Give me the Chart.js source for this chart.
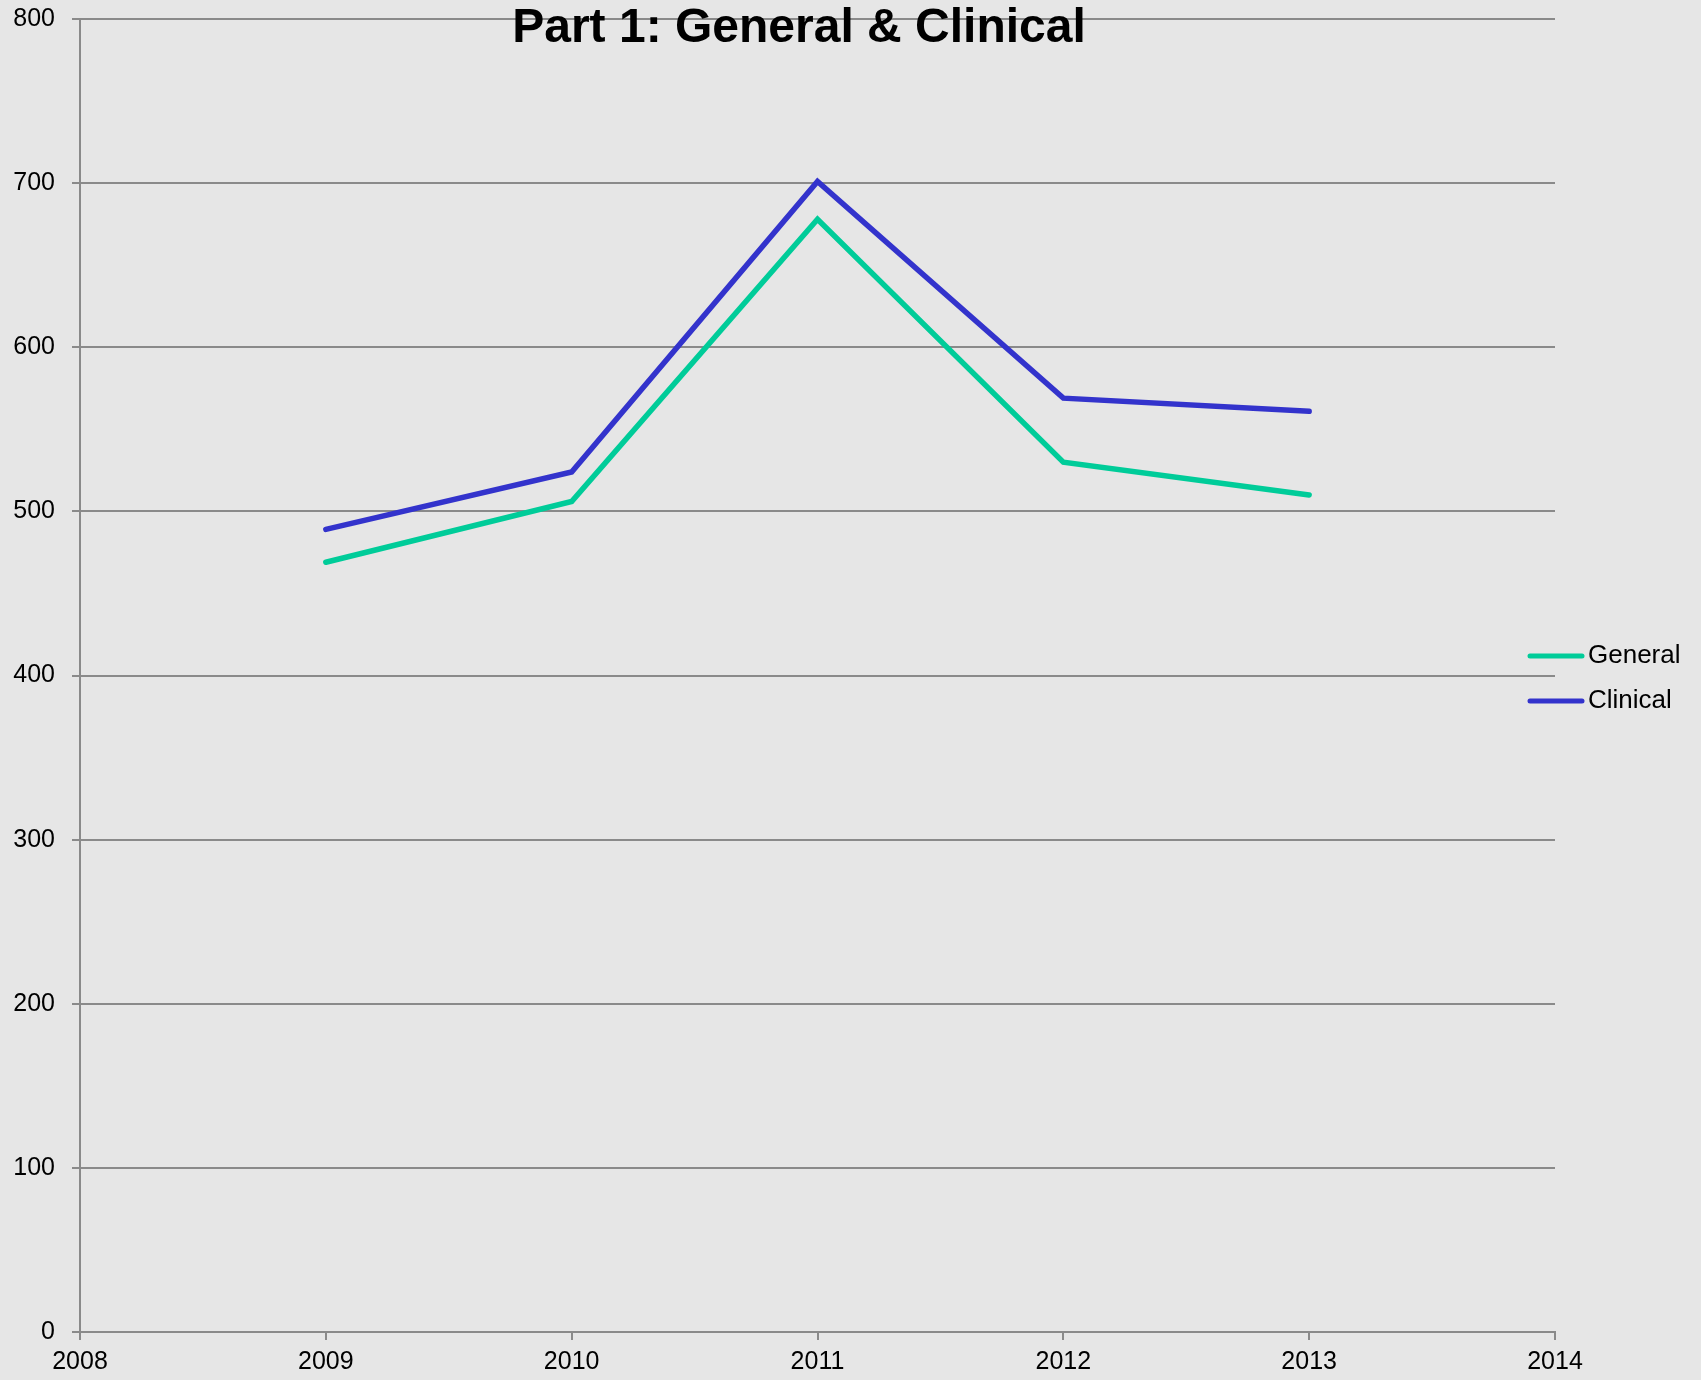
<!DOCTYPE html>
<html>
<head>
    <title>Part 1: General & Clinical</title>
    <script src="https://cdn.jsdelivr.net/npm/chart.js"></script>
    <style>
        body { margin: 0; background: #e6e6e6; }
        #wrap { width: 1701px; height: 1380px; }
    </style>
</head>
<body>
    <div id="wrap">
        <canvas id="myChart" width="1701" height="1380"></canvas>
    </div>

    <script>
        // datos
        const years = [2009, 2010, 2011, 2012, 2013];
        const general = [469, 506, 678, 530, 510];
        const clinical = [489, 524, 701, 569, 561];
        const seriesNames = ['General', 'Clinical'];
        const seriesColors = ['#00cc99', '#3333cc'];
        const xMin = 2008, xMax = 2014;
        const yMin = 0, yMax = 800, yStep = 100;
        const chartTitle = 'Part 1: General & Clinical';

        const gridColor = '#8a8a8a';
        const fontFamily = '"Liberation Sans", Arial, sans-serif';

        function toPoints(values) {
            return years.map((y, i) => ({ x: y, y: values[i] }));
        }

        // título encima del área del gráfico (se solapa con la línea de 800)
        const titlePlugin = {
            id: 'titleOverlay',
            afterDraw(chart) {
                const ctx = chart.ctx;
                ctx.save();
                ctx.font = 'bold 48px ' + fontFamily;
                ctx.fillStyle = '#000';
                ctx.textAlign = 'center';
                ctx.textBaseline = 'alphabetic';
                ctx.fillText(chartTitle, 799, 42);
                ctx.restore();
            }
        };

        // leyenda a la derecha
        const legendPlugin = {
            id: 'rightLegend',
            afterDraw(chart) {
                const ctx = chart.ctx;
                ctx.save();
                chart.data.datasets.forEach((ds, i) => {
                    const y = 656 + i * 45;
                    ctx.strokeStyle = ds.borderColor;
                    ctx.lineWidth = 5;
                    ctx.lineCap = 'round';
                    ctx.beginPath();
                    ctx.moveTo(1530, y);
                    ctx.lineTo(1582, y);
                    ctx.stroke();
                    ctx.font = '26px ' + fontFamily;
                    ctx.fillStyle = '#000';
                    ctx.textAlign = 'left';
                    ctx.textBaseline = 'middle';
                    ctx.fillText(ds.label, 1588, y);
                });
                ctx.restore();
            }
        };

        const ctx = document.getElementById('myChart').getContext('2d');
        const myChart = new Chart(ctx, {
            type: 'line',
            data: {
                datasets: [
                    { label: seriesNames[0], data: toPoints(general), borderColor: seriesColors[0] },
                    { label: seriesNames[1], data: toPoints(clinical), borderColor: seriesColors[1] }
                ]
            },
            options: {
                responsive: false,
                animation: false,
                layout: { padding: { top: 19, right: 146, left: 0, bottom: 0 } },
                elements: {
                    line: { borderWidth: 5.5, borderCapStyle: 'round', tension: 0, fill: false },
                    point: { radius: 0 }
                },
                plugins: {
                    legend: { display: false },
                    title: { display: false },
                    tooltip: { enabled: false }
                },
                scales: {
                    x: {
                        type: 'linear',
                        min: xMin,
                        max: xMax,
                        afterFit: s => { s.height = 48; s.paddingLeft = 0; s.paddingRight = 0; },
                        ticks: {
                            stepSize: 1,
                            padding: 7,
                            color: '#000',
                            font: { family: fontFamily, size: 25 },
                            callback: v => String(v)
                        },
                        grid: { drawOnChartArea: false, color: gridColor, lineWidth: 2, tickLength: 8 },
                        border: { color: gridColor, width: 2 }
                    },
                    y: {
                        min: yMin,
                        max: yMax,
                        afterFit: s => { s.width = 80; s.paddingTop = 0; s.paddingBottom = 0; },
                        ticks: {
                            stepSize: yStep,
                            padding: 17,
                            color: '#000',
                            font: { family: fontFamily, size: 25 }
                        },
                        grid: { color: gridColor, lineWidth: 2, tickLength: 8 },
                        border: { color: gridColor, width: 2 }
                    }
                }
            },
            plugins: [titlePlugin, legendPlugin]
        });
    </script>
</body>
</html>
